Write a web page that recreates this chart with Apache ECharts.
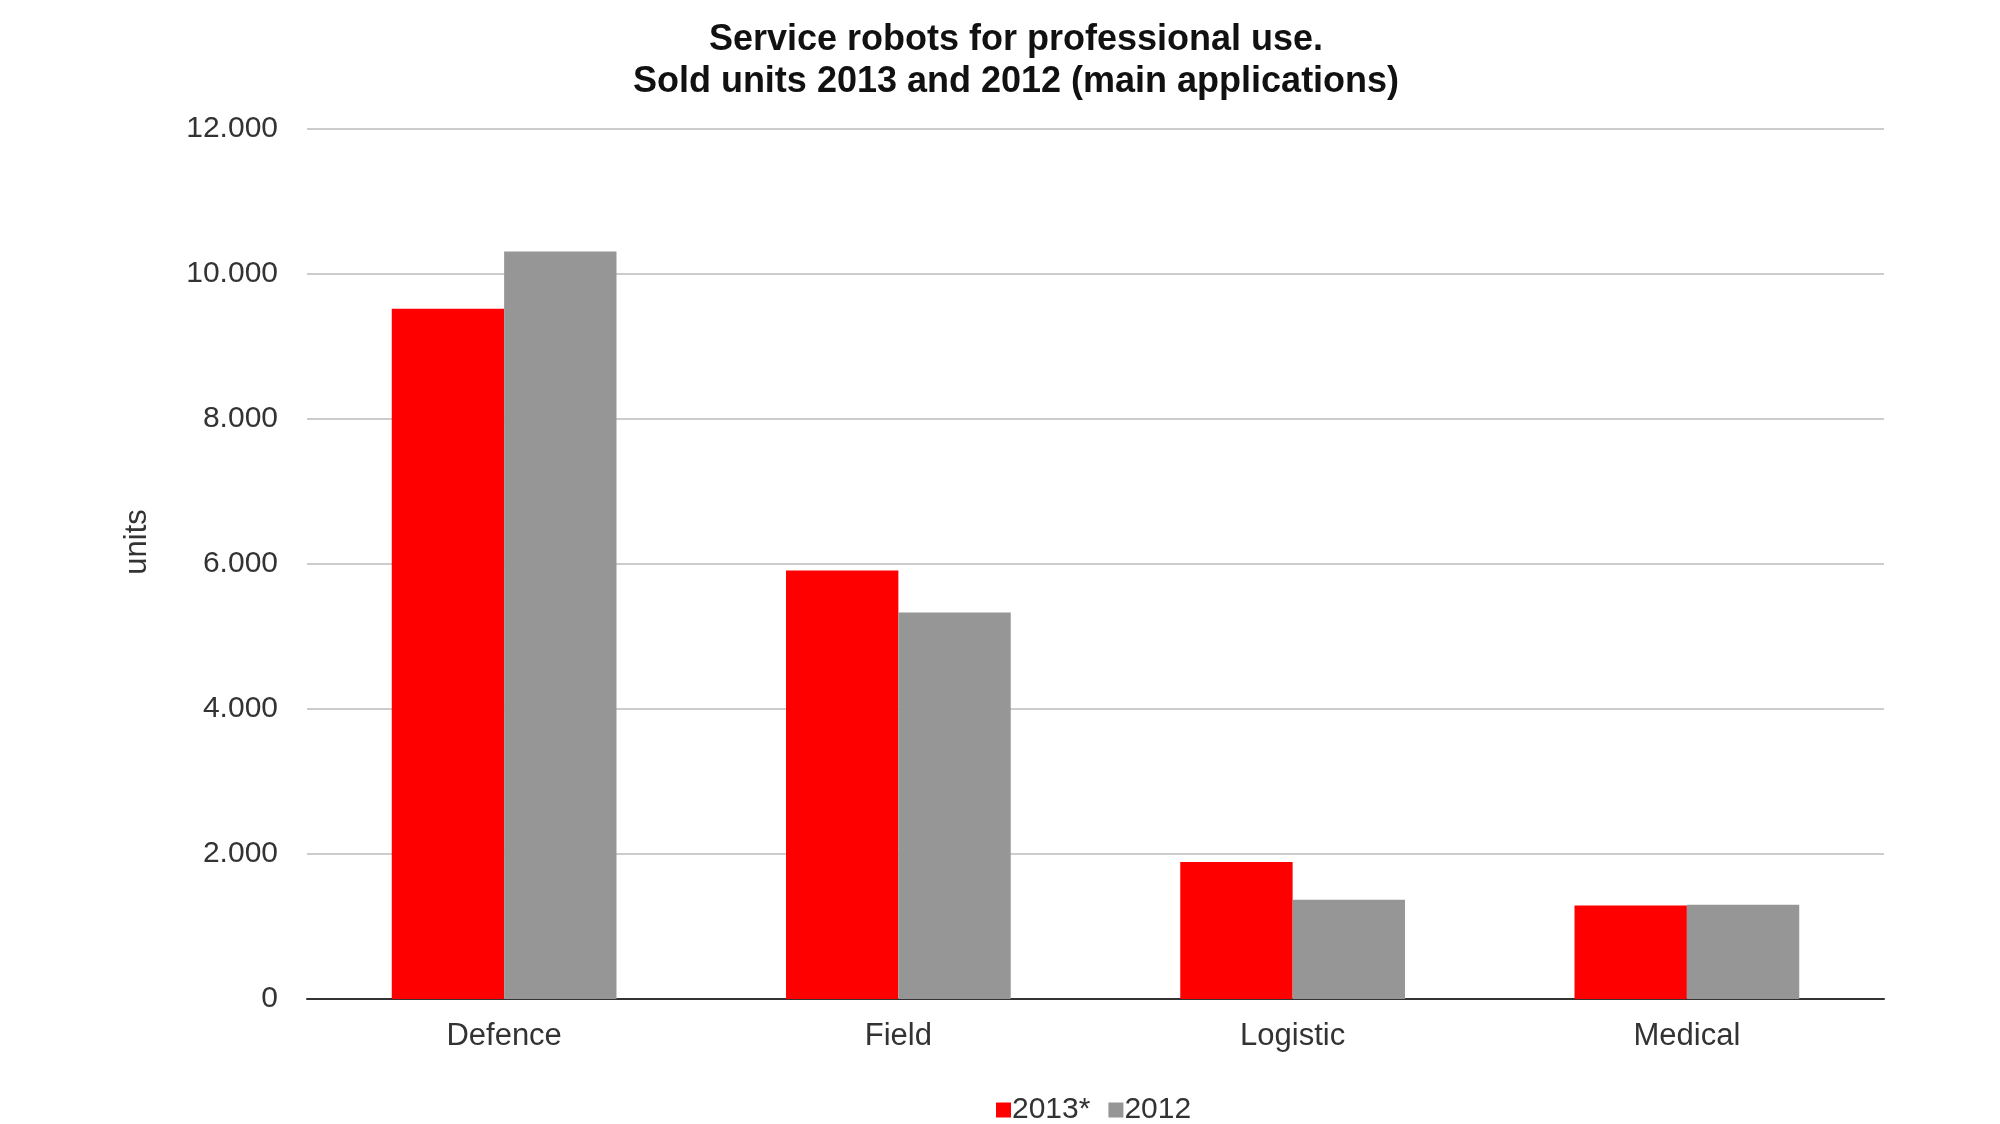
<!DOCTYPE html>
<html>
<head>
<meta charset="utf-8">
<title>Service robots for professional use</title>
<script src="https://cdn.jsdelivr.net/npm/echarts@6/dist/echarts.min.js"></script>
<style>
  html, body { margin: 0; padding: 0; background: #fff; }
  #chart { width: 2000px; height: 1124px; }
</style>
</head>
<body>
<div id="chart"></div>
<script>
// categories and values
const categories = ['Defence', 'Field', 'Logistic', 'Medical'];
const sold2013 = [9520, 5910, 1890, 1290];
const sold2012 = [10310, 5330, 1370, 1300];
const seriesNames = ['2013*', '2012'];
const yTicks = [0, 2000, 4000, 6000, 8000, 10000, 12000];

const FONT = '"Liberation Sans", Arial, sans-serif';

// 12000 -> "12.000"
function dotThousands(v) {
  return String(v).replace(/\B(?=(\d{3})+(?!\d))/g, '.');
}

const myChart = echarts.init(document.getElementById('chart'));

let option = {
  animation: false,
  backgroundColor: '#ffffff',
  title: {
    text: 'Service robots for professional use.\nSold units 2013 and 2012 (main applications)',
    left: 1011,
    textAlign: 'center',
    top: 14,
    textStyle: {
      fontFamily: FONT,
      fontSize: 36,
      fontWeight: 'bold',
      color: '#111',
      lineHeight: 42
    }
  },
  legend: {
    data: seriesNames,
    top: 1090,
    left: 991,
    icon: 'rect',
    itemWidth: 15,
    itemHeight: 15,
    itemGap: 18,
    textStyle: { fontFamily: FONT, fontSize: 30, color: '#333', padding: [0, 0, 0, -4] }
  },
  grid: {
    left: 307,
    right: 116,
    top: 129,
    bottom: 125
  },
  xAxis: {
    type: 'category',
    data: categories,
    axisTick: { show: false },
    axisLine: { lineStyle: { color: '#333', width: 2 } },
    axisLabel: {
      margin: 22,
      fontFamily: FONT,
      fontSize: 31,
      color: '#333'
    }
  },
  yAxis: {
    type: 'value',
    name: 'units',
    nameLocation: 'middle',
    nameGap: 154,
    nameRotate: 90,
    nameTextStyle: { fontFamily: FONT, fontSize: 31, color: '#333', padding: [0, 0, 0, 44] },
    min: yTicks[0],
    max: yTicks[yTicks.length - 1],
    interval: 2000,
    axisLine: { show: false },
    axisTick: { show: false },
    axisLabel: {
      margin: 29,
      fontFamily: FONT,
      fontSize: 30,
      color: '#333',
      formatter: dotThousands
    },
    splitLine: { lineStyle: { color: '#cccccc', width: 2 } }
  },
  series: [
    {
      name: seriesNames[0],
      type: 'bar',
      data: sold2013,
      barGap: '0%',
      barCategoryGap: '43%',
      itemStyle: { color: '#ff0000' }
    },
    {
      name: seriesNames[1],
      type: 'bar',
      data: sold2012,
      barGap: '0%',
      barCategoryGap: '43%',
      itemStyle: { color: '#969696' }
    }
  ]
};

myChart.setOption(option);
</script>
</body>
</html>
